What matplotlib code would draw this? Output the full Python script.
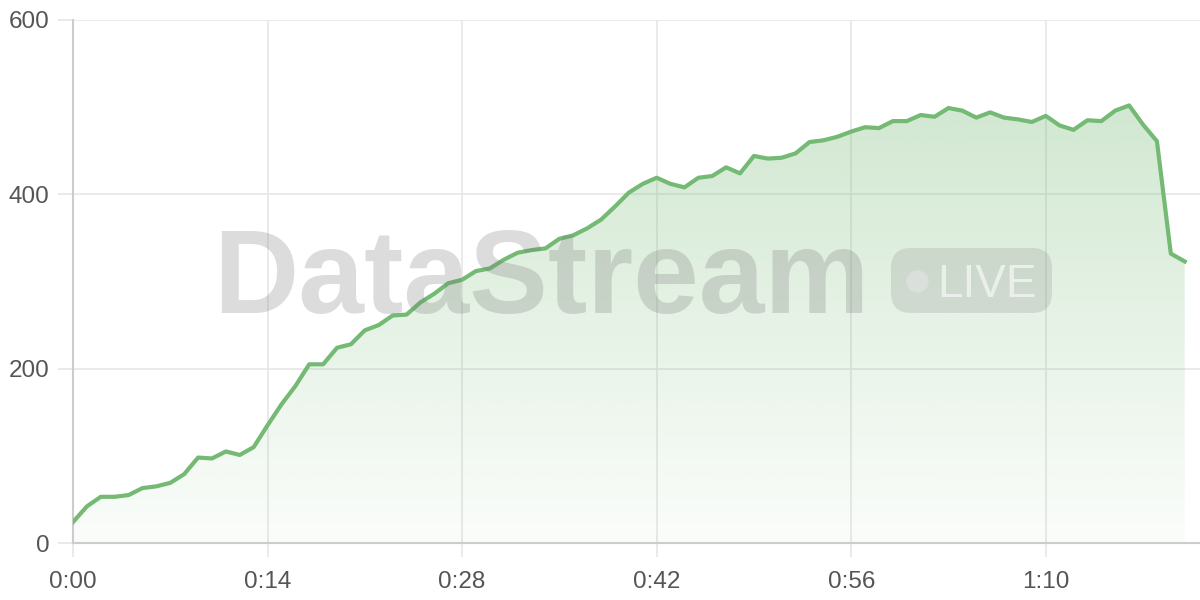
import numpy as np
import matplotlib.pyplot as plt
from matplotlib.patches import FancyBboxPatch, Polygon
from matplotlib.lines import Line2D

# seconds since start and the values
seconds = list(range(81))
values = [24, 42, 53, 53, 55, 63, 65, 69, 79, 98,
          97, 105, 101, 110, 135, 159, 180, 205, 205, 224,
          228, 244, 250, 261, 262, 276, 286, 298, 302, 312,
          315, 325, 333, 336, 338, 349, 353, 361, 371, 386,
          402, 412, 419, 412, 408, 419, 421, 431, 424, 444,
          441, 442, 447, 460, 462, 466, 472, 477, 476, 484,
          484, 491, 489, 499, 496, 488, 494, 488, 486, 483,
          490, 479, 474, 485, 484, 496, 502, 480, 461, 332,
          323]
tick_pos = [0, 14, 28, 42, 56, 70]
tick_labels = ['%d:%02d' % (t // 60, t % 60) for t in tick_pos]

plt.rcParams['font.family'] = ['Liberation Sans', 'DejaVu Sans']

W, H = 1200, 600
fig = plt.figure(figsize=(12, 6), dpi=100)
ax = fig.add_axes([73 / W, 57 / H, 1127 / W, 523 / H])
ax.set_xlim(0, 81.1)
ax.set_ylim(0, 600)

line_color = '#74b974'

# gradient fill under the line
ymax = max(values)
grad = np.linspace(0.03, 0.33, 256).reshape(-1, 1)
rgba = np.zeros((256, 1, 4))
rgba[..., 0] = 116 / 255
rgba[..., 1] = 185 / 255
rgba[..., 2] = 116 / 255
rgba[..., 3] = grad
img = ax.imshow(rgba, extent=[0, seconds[-1], 0, ymax], origin='lower',
                aspect='auto', zorder=1, interpolation='bilinear')
verts = list(zip(seconds, values)) + [(seconds[-1], 0), (0, 0)]
clip = Polygon(verts, closed=True, transform=ax.transData, facecolor='none', edgecolor='none')
ax.add_patch(clip)
img.set_clip_path(clip)

ax.plot(seconds, values, color=line_color, linewidth=3, zorder=4, solid_joinstyle='round')

# watermark
fig.text(213 / W, 1 - 313 / H, 'DataStream', fontsize=85, fontweight='bold',
         color='#777777', alpha=0.25, ha='left', va='baseline', zorder=3)
badge = FancyBboxPatch((891 / W, 1 - 313 / H), 161 / W, 65 / H,
                       boxstyle='round,pad=0,rounding_size=0.0167', transform=fig.transFigure,
                       facecolor='#888888', alpha=0.22, edgecolor='none', zorder=3,
                       mutation_aspect=2)
fig.patches.append(badge)
fig.text(937 / W, 1 - 297 / H, 'LIVE', fontsize=33, color='white', alpha=0.6,
         ha='left', va='baseline', zorder=4)
fig.lines.append(Line2D([917 / W], [1 - 281 / H], transform=fig.transFigure, marker='o',
                        markersize=16, markerfacecolor='white', markeredgecolor='none',
                        alpha=0.6, linestyle='none'))

ax.set_xticks(tick_pos)
ax.set_xticklabels(tick_labels)
ax.set_yticks([0, 200, 400, 600])
ax.grid(True, color='#e6e6e6', linewidth=1.2, zorder=0)
ax.set_axisbelow(True)
for s in ['top', 'right']:
    ax.spines[s].set_visible(False)
for s in ['left', 'bottom']:
    ax.spines[s].set_color('#cccccc')
    ax.spines[s].set_linewidth(1.5)
ax.tick_params(axis='x', length=10, width=1.2, color='#e6e6e6', pad=10, labelsize=17.5, labelcolor='#555555')
ax.tick_params(axis='y', length=11, width=1.2, color='#e6e6e6', pad=6, labelsize=17.5, labelcolor='#555555')

plt.savefig('out.png', dpi=100)
